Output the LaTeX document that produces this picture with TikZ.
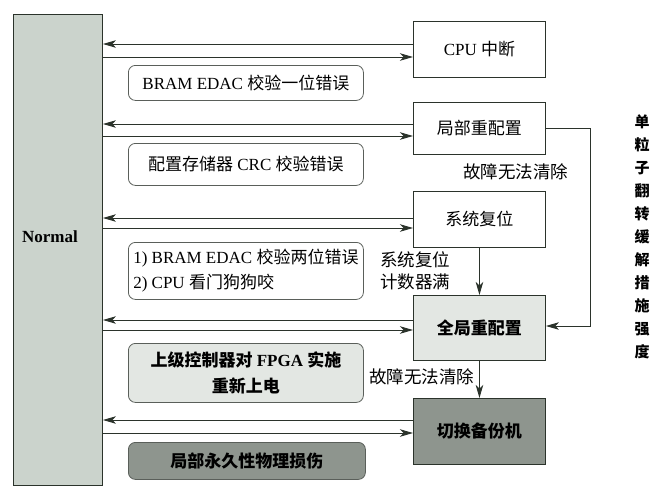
\documentclass[tikz,border=0pt]{standalone}
\usepackage{fontspec}
\setmainfont{Liberation Serif}
\newfontfamily\cjk{Noto Sans CJK SC}
\usetikzlibrary{arrows.meta}
\definecolor{linec}{HTML}{2B332B}
\definecolor{normalfill}{HTML}{CBD3CC}
\definecolor{lightfill}{HTML}{E3E7E3}
\definecolor{darkfill}{HTML}{8E958E}
\definecolor{rboxline}{HTML}{5A5F5A}
\tikzset{
  sqbox/.style={draw=linec, line width=0.9pt, inner sep=0pt, anchor=north west, font=\fontsize{17}{20}\selectfont},
  rbox/.style={draw=rboxline, line width=0.8pt, rounded corners=7pt, inner sep=0pt, anchor=north west, font=\fontsize{17}{26}\selectfont},
  arr/.style={draw=linec, line width=1pt, -{Stealth[length=13pt,width=7.5pt,inset=3.5pt]}},
  lbl/.style={font=\fontsize{17.5}{22}\selectfont, inner sep=0pt},
}
\begin{document}
\begin{tikzpicture}[x=1pt,y=-1pt]
\useasboundingbox (0,0) rectangle (672,498);
% left state
\node[sqbox, fill=normalfill, minimum width=89pt, minimum height=471pt] (normal) at (13,14) {};
\node[font=\bfseries\fontsize{17}{20}\selectfont, inner sep=0pt] (normaltext) at (50,237) {Normal};
% right boxes
\node[sqbox, minimum width=132pt, minimum height=56pt] (cpu) at (413,21) {CPU {\cjk 中断}};
\node[sqbox, minimum width=132pt, minimum height=52pt] (partial) at (413,102) {\cjk 局部重配置};
\node[sqbox, minimum width=132pt, minimum height=56pt] (sysreset) at (413,191) {\cjk 系统复位};
\node[sqbox, fill=lightfill, minimum width=132pt, minimum height=65pt] (global) at (413,295) {\cjk\bfseries 全局重配置};
\node[sqbox, fill=darkfill, minimum width=132pt, minimum height=66pt] (backup) at (413,398) {\cjk\bfseries 切换备份机};
% rounded cause boxes
\node[rbox, minimum width=235pt, minimum height=35pt] (r1) at (128,65) {BRAM EDAC {\cjk 校验一位错误}};
\node[rbox, minimum width=235pt, minimum height=42pt] (r2) at (128,143) {{\cjk 配置存储器} CRC {\cjk 校验错误}};
\node[rbox, minimum width=235pt, minimum height=57pt, align=left, font=\fontsize{17}{25}\selectfont] (r3) at (128,242) {1) BRAM EDAC {\cjk 校验两位错误}\\2) CPU {\cjk 看门狗狗咬}};
\node[rbox, fill=lightfill, minimum width=235pt, minimum height=59pt, align=center] (r4) at (128,343) {{\cjk\bfseries 上级控制器对} \textbf{FPGA} {\cjk\bfseries 实施}\\{\cjk\bfseries 重新上电}};
\node[rbox, fill=darkfill, minimum width=237pt, minimum height=37pt] (r5) at (128,442) {\cjk\bfseries 局部永久性物理损伤};
% labels
\node[lbl, anchor=west] (lab1) at (463,172) {\cjk 故障无法清除};
\node[lbl, anchor=west, align=left] (lab2) at (380,271) {\cjk 系统复位\\\cjk 计数器满};
\node[lbl, anchor=west] (lab3) at (369,377) {\cjk 故障无法清除};
\node[inner sep=0pt, align=center, font=\cjk\bfseries\fontsize{15}{23}\selectfont] (side) at (642,237)
  {单\\粒\\子\\翻\\转\\缓\\解\\措\\施\\强\\度};
% connectors to / from Normal
\draw[arr] (cpu.west |- 0,44) -- (normal.east |- 0,44);
\draw[arr] (normal.east |- 0,57) -- (cpu.west |- 0,57);
\draw[arr] (partial.west |- 0,124) -- (normal.east |- 0,124);
\draw[arr] (normal.east |- 0,136) -- (partial.west |- 0,136);
\draw[arr] (sysreset.west |- 0,218) -- (normal.east |- 0,218);
\draw[arr] (normal.east |- 0,228) -- (sysreset.west |- 0,228);
\draw[arr] (global.west |- 0,320) -- (normal.east |- 0,320);
\draw[arr] (normal.east |- 0,330) -- (global.west |- 0,330);
\draw[arr] (backup.west |- 0,420) -- (normal.east |- 0,420);
\draw[arr] (normal.east |- 0,433) -- (backup.west |- 0,433);
% escalation
\coordinate (turn) at (590,0);
\draw[arr] (partial.east |- 0,128) -- (turn |- 0,128) -- (turn |- 0,326) -- (global.east |- 0,326);
\draw[arr] (sysreset.south) -- (global.north);
\draw[arr] (global.south) -- (backup.north);
\end{tikzpicture}
\end{document}
